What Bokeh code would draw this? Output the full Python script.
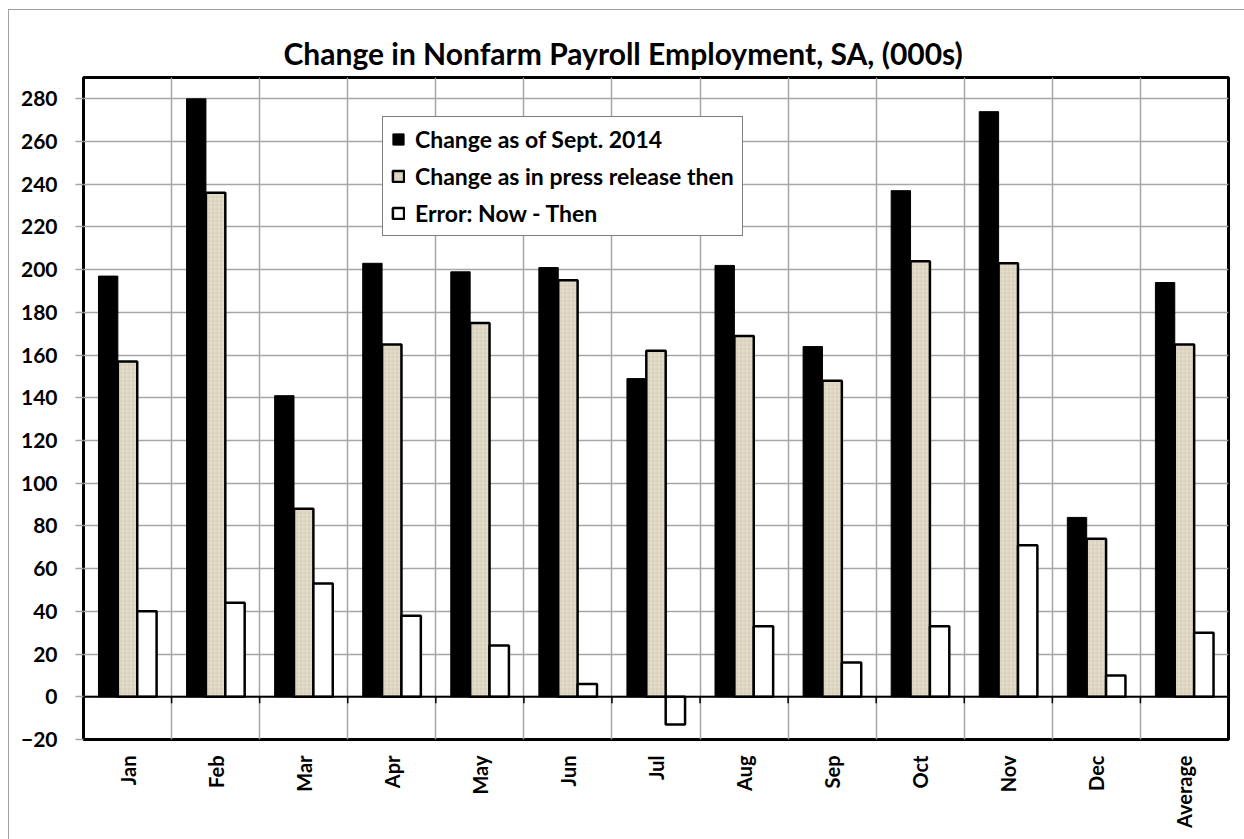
import math
from bokeh.plotting import figure
from bokeh.models import (FactorRange, FixedTicker, Span, Legend, LegendItem,
                          ColumnDataSource)
from bokeh.transform import dodge
from bokeh.embed import file_html
from bokeh.resources import INLINE

categories = ["Jan", "Feb", "Mar", "Apr", "May", "Jun", "Jul", "Aug", "Sep",
              "Oct", "Nov", "Dec", "Average"]
change_now = [197, 280, 141, 203, 199, 201, 149, 202, 164, 237, 274, 84, 194]
change_then = [157, 236, 88, 165, 175, 195, 162, 169, 148, 204, 203, 74, 165]
error = [40, 44, 53, 38, 24, 6, -13, 33, 16, 33, 71, 10, 30]
y_ticks = list(range(-20, 281, 20))
series_labels = ["Change as of Sept. 2014", "Change as in press release then",
                 "Error: Now - Then"]
title_text = "Change in Nonfarm Payroll Employment, SA, (000s)"

FONT = "Lato"
GRID = "#a6a6a6"
BEIGE = "#d9d0bb"

src = ColumnDataSource(dict(cat=categories, now=change_now, then=change_then, err=error))

p = figure(x_range=FactorRange(factors=categories), y_range=(-20, 290),
           width=1244, height=839, output_backend="svg", toolbar_location=None,
           min_border_left=83, min_border_right=16, min_border_top=77,
           min_border_bottom=100)
p.border_fill_alpha = 0
p.styles = {"background-color": "white",
            "box-shadow": "inset 8px 9px 0 0 white, inset 9px 10px 0 0 #a0a0a0"}

p.title.text = title_text
p.title.text_font = FONT
p.title.text_font_style = "bold"
p.title.text_font_size = "30px"
p.title.text_color = "black"
p.title.align = "left"
p.title.offset = 200
p.title.standoff = 14

p.outline_line_color = "black"
p.outline_line_width = 3

# grid
p.ygrid.grid_line_color = GRID
p.ygrid.grid_line_width = 1.5
p.xgrid.grid_line_color = GRID
p.xgrid.grid_line_width = 1.5
p.xgrid.ticker = FixedTicker(ticks=list(range(len(categories) + 1)))

# y axis
p.yaxis.ticker = FixedTicker(ticks=y_ticks)
p.yaxis.axis_line_color = None
p.yaxis.major_tick_line_color = GRID
p.yaxis.major_tick_line_width = 1.5
p.yaxis.major_tick_out = 8
p.yaxis.major_tick_in = 0
p.yaxis.minor_tick_line_color = None
p.yaxis.major_label_standoff = 18
p.yaxis.major_label_text_font = FONT
p.yaxis.major_label_text_font_style = "bold"
p.yaxis.major_label_text_font_size = "21px"
p.yaxis.major_label_text_color = "black"

# x axis
p.xaxis.axis_line_color = None
p.xaxis.major_tick_line_color = None
p.xaxis.minor_tick_line_color = None
p.xaxis.major_label_orientation = math.pi / 2
p.xaxis.major_label_standoff = 10
p.xaxis.major_label_text_font = FONT
p.xaxis.major_label_text_font_style = "bold"
p.xaxis.major_label_text_font_size = "20px"
p.xaxis.major_label_text_color = "black"

W = 0.22
r1 = p.vbar(x=dodge("cat", -W, range=p.x_range), top="now", bottom=0, width=W,
            source=src, fill_color="black", line_color="black", line_width=1)
r2 = p.vbar(x=dodge("cat", 0, range=p.x_range), top="then", bottom=0, width=W,
            source=src, fill_color=BEIGE, line_color="black", line_width=2.5,
            hatch_pattern="cross", hatch_color="#ebe5d6", hatch_scale=4, hatch_weight=0.6)
r3 = p.vbar(x=dodge("cat", W, range=p.x_range), top="err", bottom=0, width=W,
            source=src, fill_color="white", line_color="black", line_width=2.5)

p.add_layout(Span(location=0, dimension="width", line_color="black", line_width=2))

bounds = list(range(len(categories) + 1))
p.segment(x0=bounds, y0=[0] * len(bounds), x1=bounds, y1=[-3] * len(bounds),
          line_color="black", line_width=1.5)

legend = Legend(items=[LegendItem(label=series_labels[0], renderers=[r1]),
                       LegendItem(label=series_labels[1], renderers=[r2]),
                       LegendItem(label=series_labels[2], renderers=[r3])],
                location=(299, 503))
legend.label_text_font = FONT
legend.label_text_font_style = "bold"
legend.label_text_font_size = "23px"
legend.label_text_color = "black"
legend.glyph_width = 14
legend.glyph_height = 14
legend.label_standoff = 10
legend.label_height = 24
legend.spacing = 9
legend.padding = 8
legend.margin = 0
legend.border_line_color = "black"
legend.border_line_width = 1.5
legend.background_fill_color = "white"
legend.background_fill_alpha = 1
p.add_layout(legend, "center")

open("out.html", "w").write(file_html(p, INLINE))
